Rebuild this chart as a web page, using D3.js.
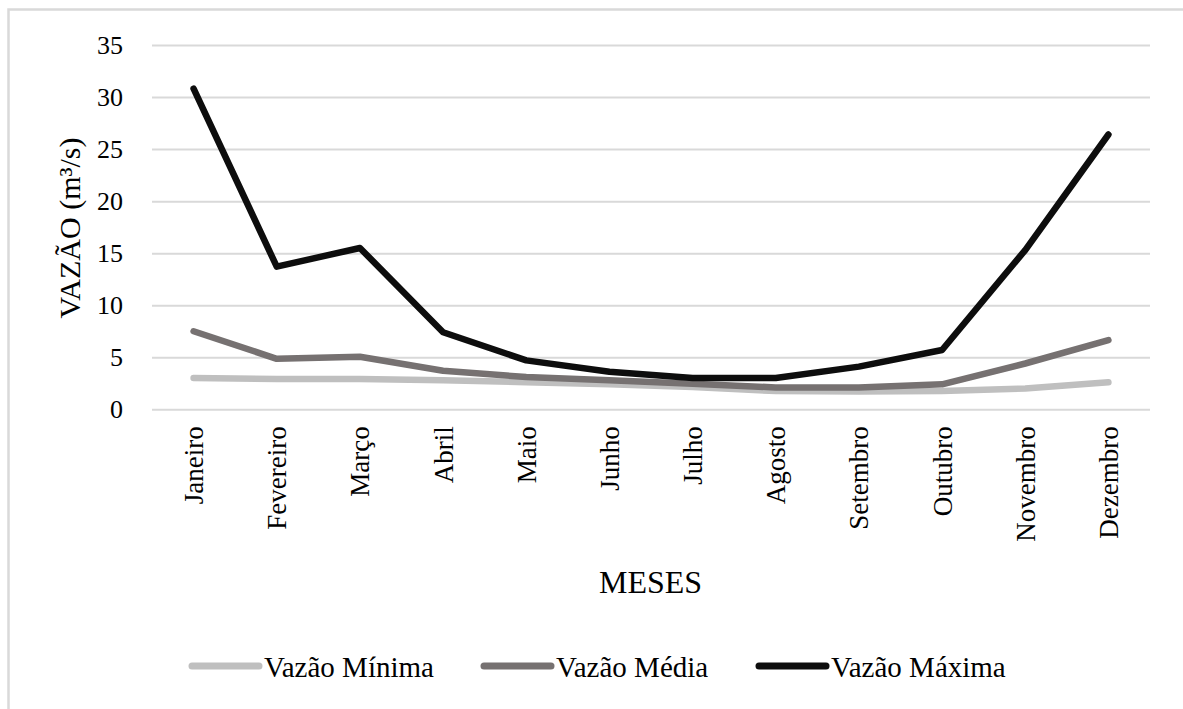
<!DOCTYPE html>
<html>
<head>
<meta charset="utf-8">
<script src="https://cdn.jsdelivr.net/npm/d3@7"></script>
<style>
  html, body { margin: 0; padding: 0; background: #fff; }
  svg { display: block; }
</style>
</head>
<body>
<svg id="chart" width="1183" height="709"></svg>
<script>
const months = ["Janeiro","Fevereiro","Março","Abril","Maio","Junho","Julho","Agosto","Setembro","Outubro","Novembro","Dezembro"];
const vazaoMinima = [3.0, 2.9, 2.9, 2.8, 2.6, 2.4, 2.15, 1.75, 1.7, 1.75, 2.0, 2.6];
const vazaoMedia  = [7.5, 4.85, 5.05, 3.7, 3.1, 2.8, 2.45, 2.1, 2.1, 2.4, 4.4, 6.65];
const vazaoMaxima = [30.8, 13.7, 15.5, 7.4, 4.7, 3.6, 3.0, 3.0, 4.1, 5.7, 15.3, 26.4];
const yTicks = [0, 5, 10, 15, 20, 25, 30, 35];
const seriesNames = ["Vazão Mínima", "Vazão Média", "Vazão Máxima"];
const seriesColors = ["#bfbfbf", "#767171", "#0d0d0d"];

const series = [vazaoMinima, vazaoMedia, vazaoMaxima].map((v, i) => ({
  name: seriesNames[i], color: seriesColors[i], values: v
}));

const FONT = '"Liberation Serif", "Times New Roman", serif';
const svg = d3.select("#chart").style("font-family", FONT);

// outer border (only top and left visible)
svg.append("rect")
  .attr("x", 8.5).attr("y", 9.5)
  .attr("width", 1400).attr("height", 900)
  .attr("fill", "none").attr("stroke", "#d9d9d9").attr("stroke-width", 2.5);

const x = d3.scalePoint().domain(months).range([152, 1150]).padding(0.5);
const y = d3.scaleLinear().domain([0, 35]).range([409.3, 45]);

// gridlines + y tick labels
const yAxis = d3.axisLeft(y).tickValues(yTicks).tickSize(-(1150 - 152)).tickPadding(29);
const gy = svg.append("g").attr("transform", "translate(152,0)").call(yAxis);
gy.attr("font-family", null).style("font-family", FONT);
gy.select(".domain").remove();
gy.selectAll(".tick line").attr("stroke", "#d9d9d9").attr("stroke-width", 2);
gy.selectAll(".tick text")
  .attr("font-size", 26)
  .attr("fill", "#000");

// x axis labels
const xAxis = d3.axisBottom(x).tickSize(0).tickPadding(0);
const gx = svg.append("g").attr("transform", "translate(0,409.3)").call(xAxis);
gx.attr("font-family", null).style("font-family", FONT);
gx.select(".domain").remove();
gx.selectAll(".tick text")
  .attr("font-size", 27)
  .attr("fill", "#000")
  .attr("text-anchor", "end")
  .attr("transform", "rotate(-90)")
  .attr("x", -17)
  .attr("y", 0)
  .attr("dy", "0.33em");

// lines
const line = d3.line().x((d, i) => x(months[i])).y(d => y(d));
svg.append("g").selectAll("path").data(series).join("path")
  .attr("d", d => line(d.values))
  .attr("fill", "none")
  .attr("stroke", d => d.color)
  .attr("stroke-width", 6.5)
  .attr("stroke-linejoin", "round")
  .attr("stroke-linecap", "round");

// axis titles
svg.append("text")
  .attr("transform", "translate(80,228) rotate(-90)")
  .attr("text-anchor", "middle")
  .attr("font-size", 30)
  .text("VAZÃO (m³/s)");

svg.append("text")
  .attr("x", 650.5).attr("y", 593)
  .attr("text-anchor", "middle")
  .attr("font-size", 32)
  .attr("textLength", 103)
  .attr("lengthAdjust", "spacingAndGlyphs")
  .text("MESES");

// legend
const legendX = [192, 484, 759];
const lg = svg.append("g").selectAll("g").data(series).join("g")
  .attr("transform", (d, i) => `translate(${legendX[i]},666)`);
lg.append("line")
  .attr("x1", 0).attr("x2", 67).attr("y1", 0).attr("y2", 0)
  .attr("stroke", d => d.color).attr("stroke-width", 7).attr("stroke-linecap", "round");
lg.append("text")
  .attr("x", 72).attr("y", 11)
  .attr("font-size", 29)
  .text(d => d.name);
</script>
</body>
</html>
